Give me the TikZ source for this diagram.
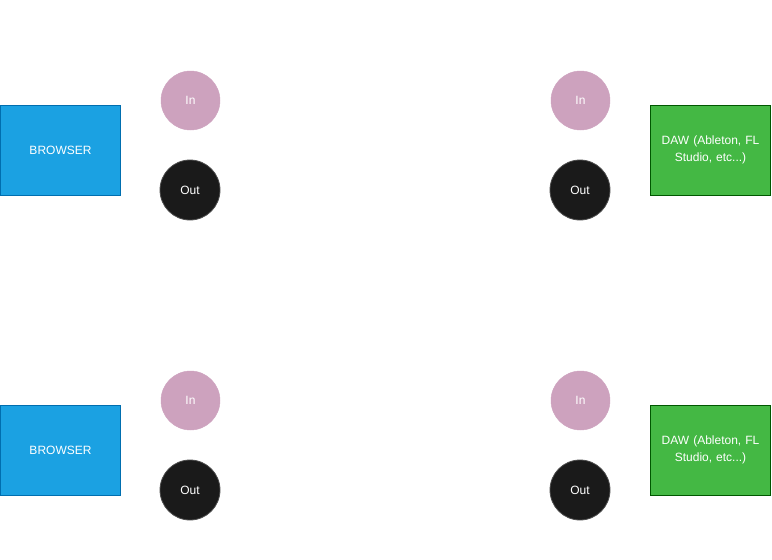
\documentclass[tikz,border=0pt]{standalone}
\usepackage{fontspec}
\setmainfont{Liberation Sans}
\definecolor{bfill}{HTML}{1BA1E2}
\definecolor{bdraw}{HTML}{006EAF}
\definecolor{infill}{HTML}{CDA2BE}
\definecolor{outfill}{HTML}{1A1A1A}
\definecolor{outdraw}{HTML}{4D4D4D}
\definecolor{gfill}{HTML}{44B844}
\definecolor{gdraw}{HTML}{005700}
\tikzset{
  lbl/.style={font=\fontsize{12}{16.5}\selectfont, text=white, align=center},
  browserbox/.style={lbl, draw=bdraw, fill=bfill, line width=0.8pt, minimum width=120pt, minimum height=90pt, inner sep=0pt},
  dawbox/.style={lbl, draw=gdraw, fill=gfill, line width=0.8pt, minimum width=120pt, minimum height=90pt, inner sep=0pt, text width=110pt},
  inport/.style={lbl, circle, fill=infill, draw=infill, minimum size=59pt, inner sep=0pt},
  outport/.style={lbl, circle, fill=outfill, draw=outdraw, line width=0.8pt, minimum size=60pt, inner sep=0pt}
}
\begin{document}
\begin{tikzpicture}[x=1pt,y=-1pt]
\useasboundingbox (0,0) rectangle (772,560);
\foreach \dy/\s in {0/a,300/b} {
  \node[browserbox] (browser\s) at (60.5,150+\dy) {BROWSER};
  \node[inport] (inL\s) at (190.5,100.5+\dy) {In};
  \node[outport] (outL\s) at (190,190+\dy) {Out};
  \node[inport] (inR\s) at (580.5,100.5+\dy) {In};
  \node[outport] (outR\s) at (580,190+\dy) {Out};
  \node[dawbox] (daw\s) at (710.5,150+\dy) {DAW (Ableton, FL\\Studio, etc...)};
}
\end{tikzpicture}
\end{document}
